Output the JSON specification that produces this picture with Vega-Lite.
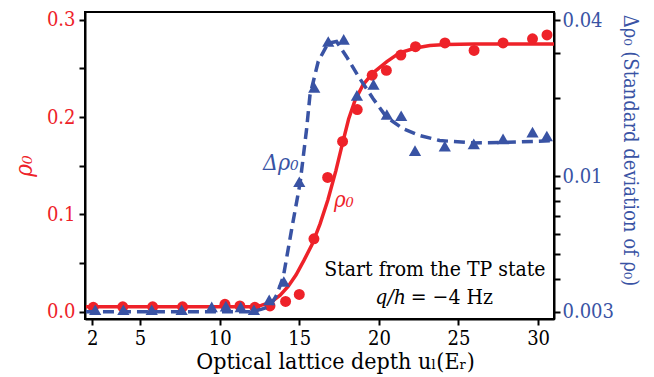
{
  "$schema": "https://vega.github.io/schema/vega-lite/v6.json",
  "width": 469,
  "height": 307,
  "autosize": {"type": "none"},
  "padding": {"left": 85, "top": 12, "right": 100, "bottom": 58},
  "config": {
    "font": "DejaVu Serif Condensed",
    "text": {"font": "DejaVu Serif Condensed"},
    "view": {"stroke": "black", "strokeWidth": 2},
    "axis": {
      "domainColor": "black", "domainWidth": 2,
      "tickColor": "black", "tickWidth": 2, "tickSize": 6,
      "labelFont": "DejaVu Serif Condensed", "titleFont": "DejaVu Serif Condensed",
      "labelFontSize": 20, "titleFontSize": 23, "titleFontWeight": "normal",
      "grid": false
    }
  },
  "datasets": {
    "redfit": [
      {"x": 1.6, "y": 0.005}, {"x": 4, "y": 0.005}, {"x": 8, "y": 0.005}, {"x": 11, "y": 0.005},
      {"x": 12, "y": 0.0052}, {"x": 12.6, "y": 0.0065}, {"x": 13.2, "y": 0.0095}, {"x": 13.8, "y": 0.017},
      {"x": 14.3, "y": 0.026}, {"x": 14.8, "y": 0.038}, {"x": 15.3, "y": 0.053}, {"x": 15.8, "y": 0.069},
      {"x": 16.3, "y": 0.09}, {"x": 16.8, "y": 0.115}, {"x": 17.3, "y": 0.145}, {"x": 17.7, "y": 0.172},
      {"x": 18.1, "y": 0.198}, {"x": 18.5, "y": 0.217}, {"x": 19.0, "y": 0.233}, {"x": 19.6, "y": 0.245},
      {"x": 20.5, "y": 0.257}, {"x": 21.3, "y": 0.266}, {"x": 22.3, "y": 0.271}, {"x": 23.2, "y": 0.2735},
      {"x": 24.2, "y": 0.2745}, {"x": 26, "y": 0.275}, {"x": 28, "y": 0.275}, {"x": 31, "y": 0.275}
    ],
    "redpts": [
      {"x": 2.06, "y": 0.0045}, {"x": 3.91, "y": 0.005}, {"x": 5.79, "y": 0.005}, {"x": 7.67, "y": 0.005},
      {"x": 10.33, "y": 0.0076}, {"x": 11.27, "y": 0.0059}, {"x": 12.21, "y": 0.0045}, {"x": 13.16, "y": 0.0059},
      {"x": 14.14, "y": 0.0105}, {"x": 15.0, "y": 0.0177}, {"x": 15.92, "y": 0.0749}, {"x": 16.78, "y": 0.138},
      {"x": 17.72, "y": 0.175}, {"x": 18.64, "y": 0.2077}, {"x": 19.58, "y": 0.243}, {"x": 20.47, "y": 0.248},
      {"x": 21.38, "y": 0.2638}, {"x": 22.3, "y": 0.2723}, {"x": 24.15, "y": 0.2762}, {"x": 25.98, "y": 0.2685},
      {"x": 27.8, "y": 0.2762}, {"x": 29.65, "y": 0.2805}, {"x": 30.56, "y": 0.2844}
    ],
    "bluefit": [
      {"x": 1.6, "y": 0.003}, {"x": 4, "y": 0.003}, {"x": 8, "y": 0.003}, {"x": 12, "y": 0.003},
      {"x": 12.6, "y": 0.00306}, {"x": 13.16, "y": 0.00314}, {"x": 13.6, "y": 0.0035}, {"x": 14.0, "y": 0.0041},
      {"x": 14.52, "y": 0.00623}, {"x": 15.05, "y": 0.0094}, {"x": 15.46, "y": 0.0152}, {"x": 15.67, "y": 0.0205},
      {"x": 16.19, "y": 0.0277}, {"x": 16.81, "y": 0.0326}, {"x": 17.34, "y": 0.0331}, {"x": 17.97, "y": 0.0289},
      {"x": 18.8, "y": 0.0238}, {"x": 19.64, "y": 0.0199}, {"x": 20.48, "y": 0.0169}, {"x": 21.52, "y": 0.01524},
      {"x": 22.57, "y": 0.01435}, {"x": 23.82, "y": 0.01372}, {"x": 25.92, "y": 0.01344}, {"x": 27.8, "y": 0.0135},
      {"x": 31, "y": 0.0137}
    ],
    "bluepts": [
      {"x": 2.18, "y": 0.00305}, {"x": 3.95, "y": 0.00305}, {"x": 5.73, "y": 0.00305}, {"x": 7.61, "y": 0.00305},
      {"x": 9.5, "y": 0.00313}, {"x": 10.39, "y": 0.00315}, {"x": 11.32, "y": 0.00313}, {"x": 12.15, "y": 0.00305},
      {"x": 13.11, "y": 0.00333}, {"x": 14.03, "y": 0.00392}, {"x": 15.0, "y": 0.00952}, {"x": 15.94, "y": 0.022},
      {"x": 16.82, "y": 0.0331}, {"x": 17.79, "y": 0.0337}, {"x": 18.62, "y": 0.0205}, {"x": 19.66, "y": 0.0226},
      {"x": 20.5, "y": 0.0173}, {"x": 21.4, "y": 0.0171}, {"x": 22.27, "y": 0.01254}, {"x": 24.14, "y": 0.01306},
      {"x": 25.96, "y": 0.01332}, {"x": 27.8, "y": 0.01393}, {"x": 29.65, "y": 0.01479}, {"x": 30.55, "y": 0.01428}
    ]
  },
  "layer": [
    {
      "encoding": {
        "x": {
          "field": "x", "type": "quantitative",
          "scale": {"domain": [1.54, 31.0], "nice": false, "zero": false},
          "axis": {
            "values": [2, 5, 10, 15, 20, 25, 30],
            "title": "Optical lattice depth uₗ(Eᵣ)",
            "labelColor": "black", "titleColor": "black",
            "labelPadding": 3, "titlePadding": 2, "labelFlush": false,
            "titleX": 250
          }
        },
        "y": {
          "field": "y", "type": "quantitative",
          "scale": {"domain": [-0.0075, 0.308], "nice": false, "zero": false},
          "axis": {
            "values": [0, 0.05, 0.1, 0.15, 0.2, 0.25, 0.3],
            "labelExpr": "(round(datum.value*100) % 10 == 0) ? format(datum.value, '.1f') : ''",
            "labelColor": "#EE2229",
            "labelPadding": 4,
            "title": "ρ₀",
            "titleColor": "#EE2229",
            "titleFontStyle": "italic",
            "titleFontSize": 24,
            "titlePadding": 10
          }
        }
      },
      "layer": [
        {"data": {"name": "redfit"}, "mark": {"type": "line", "color": "#EE2229", "strokeWidth": 3.5, "clip": true}},
        {"data": {"name": "redpts"}, "mark": {"type": "point", "shape": "circle", "filled": true, "size": 120, "color": "#EE2229", "opacity": 1}},
        {"data": {"values": [{"x": 17.8, "y": 0.115, "t": "ρ₀"}]},
         "mark": {"type": "text", "color": "#EE2229", "fontSize": 22, "fontStyle": "italic", "align": "center", "baseline": "middle"},
         "encoding": {"text": {"field": "t"}}},
        {"data": {"values": [{"x": 13.84, "y": 0.153, "t": "Δρ₀"}]},
         "mark": {"type": "text", "color": "#3953A4", "fontSize": 23, "fontStyle": "italic", "align": "center", "baseline": "middle"},
         "encoding": {"text": {"field": "t"}}},
        {"data": {"values": [{"x": 23.52, "y": 0.043, "t": "Start from the TP state"}]},
         "mark": {"type": "text", "color": "black", "fontSize": 21, "align": "center", "baseline": "middle"},
         "encoding": {"text": {"field": "t"}}},
        {"data": {"values": [{"x": 22.0, "y": 0.0141, "t": "= −4 Hz"}]},
         "mark": {"type": "text", "color": "black", "fontSize": 21, "align": "left", "baseline": "middle"},
         "encoding": {"text": {"field": "t"}}},
        {"data": {"values": [{"x": 21.7, "y": 0.0141, "t": "q/h"}]},
         "mark": {"type": "text", "color": "black", "fontSize": 21, "fontStyle": "italic", "align": "right", "baseline": "middle"},
         "encoding": {"text": {"field": "t"}}}
      ]
    },
    {
      "encoding": {
        "x": {
          "field": "x", "type": "quantitative",
          "scale": {"domain": [1.54, 31.0], "nice": false, "zero": false}
        },
        "y": {
          "field": "y", "type": "quantitative",
          "scale": {"type": "log", "domain": [0.00281, 0.043], "nice": false},
          "axis": {
            "orient": "right",
            "values": [0.003, 0.004, 0.005, 0.006, 0.007, 0.008, 0.009, 0.01, 0.02, 0.03, 0.04],
            "labelExpr": "datum.value == 0.003 ? '0.003' : datum.value == 0.01 ? '0.01' : datum.value == 0.04 ? '0.04' : ''",
            "labelColor": "#3953A4",
            "labelPadding": 2,
            "title": "Δρ₀ (Standard deviation of ρ₀)",
            "titleColor": "#3953A4",
            "titleFontSize": 20,
            "titleAngle": 90,
            "titleY": 138,
            "titlePadding": 6
          }
        }
      },
      "layer": [
        {"data": {"name": "bluefit"}, "mark": {"type": "line", "color": "#3953A4", "strokeWidth": 3.5, "strokeDash": [11, 6], "clip": true}},
        {"data": {"name": "bluepts"}, "mark": {"type": "point", "shape": "triangle-up", "filled": true, "size": 150, "color": "#3953A4", "opacity": 1}}
      ]
    }
  ],
  "resolve": {"scale": {"y": "independent"}}
}
